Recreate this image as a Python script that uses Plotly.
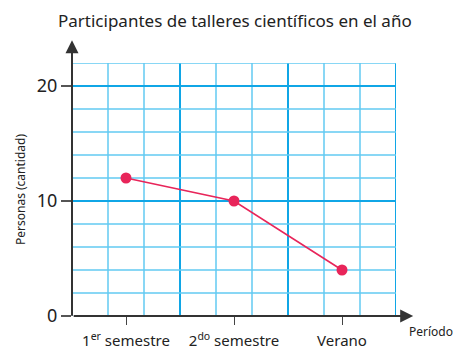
import plotly.graph_objects as go

# Data
periodos = ["1<sup>er</sup> semestre", "2<sup>do</sup> semestre", "Verano"]
personas = [12, 10, 4]
y_ticks = [0, 10, 20]

# Category centres on a 0..9 column grid (3 columns per period)
x_pos = [1.5, 4.5, 7.5]

FONT = "Noto Sans"
GRID = "#62caf2"
GRID_BOLD = "#10a6e6"
LINE = "#e8255a"

fig = go.Figure()

fig.add_trace(go.Scatter(
    x=x_pos, y=personas, mode="lines+markers",
    line=dict(color=LINE, width=1.6),
    marker=dict(color=LINE, size=11),
    showlegend=False, hoverinfo="skip",
))

shapes = []
# vertical grid lines
for i in range(0, 10):
    bold = i % 3 == 0 and i != 0
    shapes.append(dict(type="line", xref="x", yref="y", x0=i, x1=i, y0=0, y1=22,
                       line=dict(color=GRID_BOLD if bold else GRID, width=2 if bold else 1.5),
                       layer="below"))
# horizontal grid lines
for j in range(2, 23, 2):
    bold = j % 10 == 0
    shapes.append(dict(type="line", xref="x", yref="y", x0=0, x1=9, y0=j, y1=j,
                       line=dict(color=GRID_BOLD if bold else GRID, width=2 if bold else 1.5),
                       layer="below"))

fig.update_layout(
    width=456, height=351,
    margin=dict(l=72, r=60, t=63, b=35),
    paper_bgcolor="white", plot_bgcolor="white",
    shapes=shapes,
    title=dict(text="Participantes de talleres científicos en el año",
               x=0.515, xanchor="center", y=0.94, yanchor="middle",
               font=dict(family=FONT, size=17, color="#222")),
    xaxis=dict(range=[0, 9], tickvals=x_pos, ticktext=periodos,
               showgrid=False, zeroline=False, showline=False,
               ticks="outside", ticklen=8, tickcolor="#444", tickwidth=1,
               ticklabelstandoff=3, automargin=False,
               tickfont=dict(family=FONT, size=15, color="#222"),
               fixedrange=True),
    yaxis=dict(range=[0, 22], tickvals=y_ticks, showgrid=False, zeroline=False,
               showline=False, ticks="outside", ticklen=10, tickcolor="#555",
               tickwidth=1.5, tickfont=dict(family=FONT, size=18, color="#222"),
               automargin=False,
               title=dict(text="Personas (cantidad)", standoff=8,
                          font=dict(family=FONT, size=12, color="#222")),
               fixedrange=True),
)

# Axes drawn as arrows extending beyond the grid
fig.add_annotation(xref="paper", yref="y", x=1.053, y=0, ax=-341, ay=0,
                   axref="pixel", ayref="pixel", text="", showarrow=True,
                   arrowhead=2, arrowsize=1.3, arrowwidth=2, arrowcolor="#333")
fig.add_annotation(xref="x", yref="paper", x=0, y=1.09, ax=0, ay=277,
                   text="", showarrow=True,
                   arrowhead=2, arrowsize=1.3, arrowwidth=2, arrowcolor="#333")
fig.add_annotation(xref="paper", yref="paper", x=1.035, y=-0.02,
                   xanchor="left", yanchor="top", text="Período",
                   showarrow=False, font=dict(family=FONT, size=12, color="#222"))

fig.write_html("out.html")
